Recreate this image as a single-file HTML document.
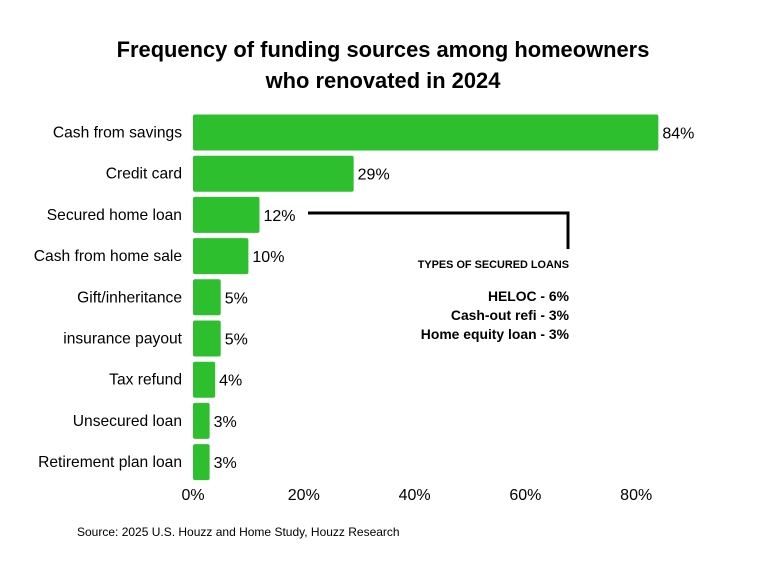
<!DOCTYPE html>
<html><head><meta charset="utf-8"><style>
body{margin:0;background:#fff;font-family:"Liberation Sans",Arial,sans-serif}
svg text{font-family:"Liberation Sans",Arial,sans-serif}
</style></head><body>
<svg width="766" height="575">
<text x="383" y="57" text-anchor="middle" font-size="21.9" font-weight="bold">Frequency of funding sources among homeowners</text>
<text x="383" y="88" text-anchor="middle" font-size="21.9" font-weight="bold">who renovated in 2024</text>
<g id="bars"></g>
<g id="xticks"></g>
<polyline points="308,213 568,213 568,249" fill="none" stroke="#000" stroke-width="3"/>
<text x="569" y="268" text-anchor="end" font-size="10.9" font-weight="bold">TYPES OF SECURED LOANS</text>
<text x="569" y="301" text-anchor="end" font-size="13.9" font-weight="bold">HELOC - 6%</text>
<text x="569" y="320" text-anchor="end" font-size="13.9" font-weight="bold">Cash-out refi - 3%</text>
<text x="569" y="339" text-anchor="end" font-size="13.9" font-weight="bold">Home equity loan - 3%</text>
<text x="77" y="536" font-size="12">Source: 2025 U.S. Houzz and Home Study, Houzz Research</text>
</svg>
<script>
const categories=["Cash from savings","Credit card","Secured home loan","Cash from home sale","Gift/inheritance","insurance payout","Tax refund","Unsecured loan","Retirement plan loan"];
const values=[84,29,12,10,5,5,4,3,3];
const tickValues=[0,20,40,60,80];
const tickLabels=["0%","20%","40%","60%","80%"];
const NS="http://www.w3.org/2000/svg";
const x0=193,pxPer=5.54;
function xScale(v){return x0+v*pxPer;}
function yCenter(i){return 132.5+i*41.2;}
const bh=36;
const gb=document.getElementById('bars');
categories.forEach((c,i)=>{
  const cy=yCenter(i);
  const r=document.createElementNS(NS,'rect');
  r.setAttribute('x',x0);r.setAttribute('y',cy-bh/2);
  r.setAttribute('width',xScale(values[i])-x0);r.setAttribute('height',bh);
  r.setAttribute('rx',2);r.setAttribute('fill','#2ebf2e');
  
  
  gb.appendChild(r);
  const l=document.createElementNS(NS,'text');
  l.setAttribute('x',182);l.setAttribute('y',cy+5);l.setAttribute('text-anchor','end');l.setAttribute('font-size','15.6');
  l.textContent=c;
  
  
  gb.appendChild(l);
  const v=document.createElementNS(NS,'text');
  v.setAttribute('x',xScale(values[i])+4);v.setAttribute('y',cy+6);v.setAttribute('font-size','16');
  v.textContent=values[i]+'%';
  
  
  gb.appendChild(v);
});
const gt=document.getElementById('xticks');
tickValues.forEach((t,i)=>{
  const e=document.createElementNS(NS,'text');
  e.setAttribute('x',xScale(t));e.setAttribute('y',500);e.setAttribute('text-anchor','middle');e.setAttribute('font-size','16');
  e.textContent=tickLabels[i];
  
  
  gt.appendChild(e);
});
</script>
</body></html>
